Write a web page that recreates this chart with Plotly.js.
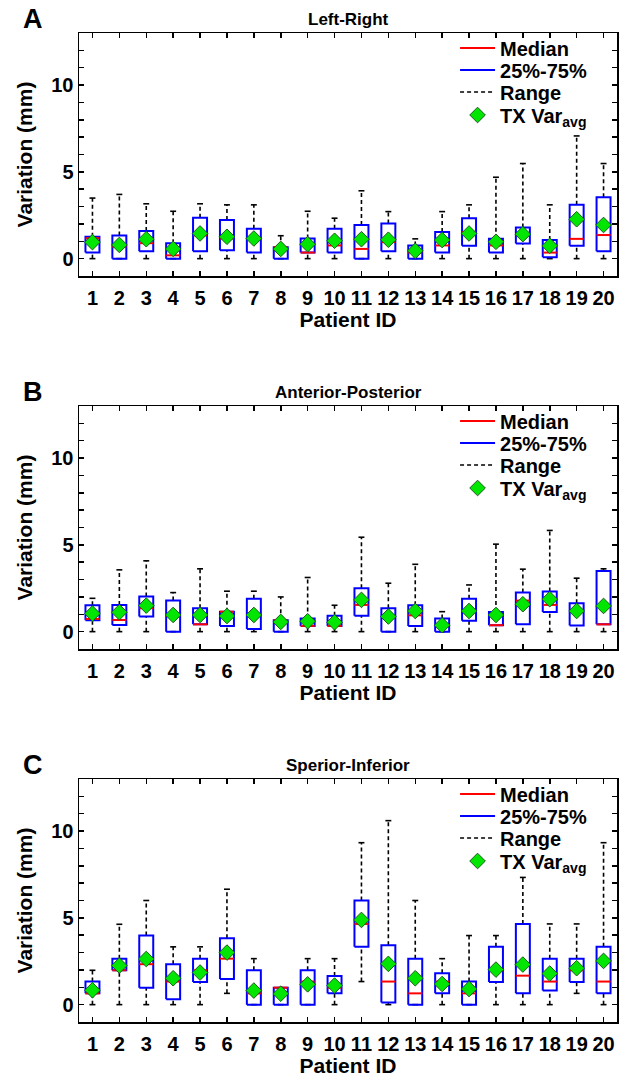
<!DOCTYPE html>
<html>
<head>
<meta charset="utf-8">
<script src="https://cdn.plot.ly/plotly-3.0.1.min.js"></script>
<style>html,body{margin:0;padding:0;background:#fff;}#chart{width:624px;height:1078px;}</style>
</head>
<body>
<div id="chart"></div>
<script>
// Patient IDs
const patients = [1,2,3,4,5,6,7,8,9,10,11,12,13,14,15,16,17,18,19,20];

// Panel A: Left-Right
const maxA  = [3.49,3.70,3.16,2.73,3.16,3.10,3.10,1.32,2.73,2.33,3.91,2.71,1.14,2.71,3.10,4.69,5.48,3.10,7.07,5.48];
const q3A   = [1.26,1.34,1.59,0.89,2.36,2.23,1.72,0.66,1.16,1.72,1.94,2.03,0.76,1.53,2.33,1.14,1.80,1.07,3.10,3.53];
const medA  = [1.18,0.68,0.89,0.19,1.34,1.16,1.16,0.66,0.35,0.76,0.56,0.95,0.35,0.76,1.53,0.76,1.36,0.35,1.14,1.36];
const q1A   = [0.35,0.00,0.43,0.00,0.43,0.48,0.35,0.00,0.35,0.35,0.00,0.43,0.00,0.35,0.74,0.35,0.87,0.08,0.74,0.43];
const minA  = [0,0,0,0,0,0,0,0,0,0,0,0,0,0,0,0,0,0,0,0];
const meanA = [0.95,0.79,1.12,0.56,1.45,1.26,1.16,0.56,0.83,1.03,1.12,1.09,0.45,1.07,1.45,0.97,1.41,0.74,2.27,1.94];

// Panel B: Anterior-Posterior
const maxB  = [1.92,3.56,4.08,2.25,3.62,2.33,2.33,2.00,3.12,1.52,5.44,2.79,3.88,1.15,2.69,5.04,3.60,5.83,3.08,3.62];
const q3B   = [1.52,1.54,2.02,1.79,1.35,1.15,1.90,0.65,0.75,0.92,2.50,1.35,1.52,0.75,1.90,1.13,2.25,2.31,1.63,3.50];
const medB  = [0.73,0.67,1.35,0.90,0.42,1.15,0.96,0.65,0.33,0.33,1.54,0.87,0.94,0.33,1.19,0.37,1.79,1.54,1.15,0.42];
const q1B   = [0.65,0.38,0.87,0.00,0.42,0.33,0.15,0.00,0.33,0.33,0.92,0.00,0.33,0.00,0.63,0.37,0.42,1.13,0.35,0.42];
const minB  = [0,0,0,0,0,0,0,0,0,0,0,0,0,0,0,0,0,0,0,0];
const meanB = [1.04,1.12,1.50,0.96,0.96,0.90,0.96,0.56,0.60,0.54,1.83,0.87,1.19,0.37,1.19,0.96,1.58,1.87,1.19,1.48];

// Panel C: Sperior-Inferior
const maxC  = [1.98,4.63,6.00,3.33,3.33,6.65,2.65,0.98,2.65,2.65,9.33,10.6,6.00,2.65,3.98,3.98,7.33,4.65,4.65,9.33];
const q3C   = [1.33,2.65,3.98,2.33,2.65,3.83,1.98,0.98,1.98,1.65,6.00,3.42,2.65,1.81,1.33,3.33,4.65,2.65,2.65,3.33];
const medC  = [0.65,1.98,2.33,1.33,1.98,2.65,0.65,0.98,1.33,0.98,4.65,1.33,0.65,1.33,0.65,1.98,1.67,1.33,1.98,1.33];
const q1C   = [0.65,1.98,0.98,0.31,1.31,1.48,0.00,0.00,0.00,0.65,3.33,0.13,0.00,0.65,0.00,1.31,0.65,0.81,1.31,0.65];
const minC  = [0,0,0,0,0,0.65,0,0,0,0,1.33,0,0,0,0,0,0,0,0.65,0];
const meanC = [0.83,2.25,2.63,1.52,1.85,3.00,0.81,0.63,1.17,1.10,4.88,2.35,1.52,1.19,0.90,2.02,2.31,1.79,2.10,2.52];

const panelTitles = ['Left-Right','Anterior-Posterior','Sperior-Inferior'];
const panelLetters = ['A','B','C'];
const legendLabels = ['Median','25%-75%','Range','TX Var<sub>avg</sub>'];
const yTickVals = [0,1,2,3,4,5,6,7,8,9,10,11,12];
const yTickText = ['0','','','','','5','','','','','10','',''];

const panels = [
  {max:maxA,q3:q3A,med:medA,q1:q1A,min:minA,mean:meanA},
  {max:maxB,q3:q3B,med:medB,q1:q1B,min:minB,mean:meanB},
  {max:maxC,q3:q3C,med:medC,q1:q1C,min:minC,mean:meanC}
];

const BOXW = 0.26, CAPW = 0.11;
const FONT = 'Liberation Sans, Arial, Helvetica, sans-serif';
const traces = [];
const lgName = n => n === 1 ? 'legend' : 'legend' + n;

panels.forEach((p, k) => {
  const xa = k === 0 ? 'x' : 'x' + (k+1);
  const ya = k === 0 ? 'y' : 'y' + (k+1);
  const base = k*4;
  const bx=[], by=[], mx=[], my=[], wx=[], wy=[], cx=[], cy=[];
  patients.forEach((x, i) => {
    bx.push(x-BOXW, x+BOXW, x+BOXW, x-BOXW, x-BOXW, null);
    by.push(p.q1[i], p.q1[i], p.q3[i], p.q3[i], p.q1[i], null);
    mx.push(x-BOXW, x+BOXW, null);
    my.push(p.med[i], p.med[i], null);
    if (p.max[i] > p.q3[i]) { wx.push(x, x, null); wy.push(p.q3[i], p.max[i], null); }
    if (p.q1[i] > p.min[i]) { wx.push(x, x, null); wy.push(p.min[i], p.q1[i], null); }
    cx.push(x-CAPW, x+CAPW, null, x-CAPW, x+CAPW, null);
    cy.push(p.max[i], p.max[i], null, p.min[i], p.min[i], null);
  });
  traces.push({type:'scatter', mode:'lines', x:wx, y:wy, xaxis:xa, yaxis:ya, legend:lgName(base+3),
    name:legendLabels[2], line:{color:'#000', width:1.6, dash:'4px,3px'}, hoverinfo:'skip'});
  traces.push({type:'scatter', mode:'lines', x:cx, y:cy, xaxis:xa, yaxis:ya,
    showlegend:false, line:{color:'#000', width:1.6}, hoverinfo:'skip'});
  traces.push({type:'scatter', mode:'lines', x:bx, y:by, xaxis:xa, yaxis:ya, legend:lgName(base+2),
    name:legendLabels[1], line:{color:'#0000FF', width:2}, hoverinfo:'skip'});
  traces.push({type:'scatter', mode:'lines', x:mx, y:my, xaxis:xa, yaxis:ya, legend:lgName(base+1),
    name:legendLabels[0], line:{color:'#FF0000', width:2}, hoverinfo:'skip'});
  traces.push({type:'scatter', mode:'markers', x:patients, y:p.mean, xaxis:xa, yaxis:ya, legend:lgName(base+4),
    name:legendLabels[3],
    marker:{symbol:'diamond', size:12, color:'#00E600', line:{color:'#1a5a1a', width:1}}});
});

// layout geometry (pixels): plot area x 79..617, y 33..1022
const TOP = 33, PH = 989;
const domainTopPx = [33, 406, 779];
const domains = domainTopPx.map(t => [1 - (t + 243 - TOP)/PH, 1 - (t - TOP)/PH]);
const legendRowPx = [15, 37, 59, 82];
const pxToPaper = px => 1 - (px - TOP)/PH;

const layout = {
  width:624, height:1078,
  margin:{l:79, r:7, t:TOP, b:1078-TOP-PH},
  paper_bgcolor:'#fff', plot_bgcolor:'#fff',
  font:{family:FONT, size:18, color:'#000', weight:'bold'},
  annotations:[], showlegend:true
};
domains.forEach((d, k) => {
  const sfx = k === 0 ? '' : String(k+1);
  layout['xaxis'+sfx] = {
    domain:[0,1], anchor:'y'+sfx, range:[0.5,20.5],
    tickvals:patients, ticktext:patients.map(String),
    ticks:'inside', ticklen:5, tickwidth:1.5, tickcolor:'#000',
    showline:true, linecolor:'#000', linewidth:1.5, mirror:'ticks',
    showgrid:false, zeroline:false, fixedrange:true,
    ticklabelstandoff:3,
    tickfont:{family:FONT, size:20, weight:'bold'},
    title:{text:'Patient ID', font:{family:FONT, size:21, weight:'bold'}, standoff:5}
  };
  layout['yaxis'+sfx] = {
    domain:d, anchor:'x'+sfx, range:[-1,13],
    tickvals:yTickVals, ticktext:yTickText,
    ticks:'inside', ticklen:5, tickwidth:1.5, tickcolor:'#000',
    showline:true, linecolor:'#000', linewidth:1.5, mirror:'ticks',
    showgrid:false, zeroline:false, fixedrange:true,
    tickfont:{family:FONT, size:20, weight:'bold'},
    title:{text:'Variation (mm)', font:{family:FONT, size:21, weight:'bold'}, standoff:13}
  };
  for (let j = 0; j < 4; j++) {
    layout[lgName(k*4 + j + 1)] = {
      x:0.699, y:pxToPaper(domainTopPx[k] + legendRowPx[j]), xref:'paper', yref:'paper',
      xanchor:'left', yanchor:'middle',
      bgcolor:'rgba(0,0,0,0)', borderwidth:0,
      font:{family:FONT, size:20, weight:'bold'}, itemwidth:35
    };
  }
  layout.annotations.push({
    text:panelTitles[k], xref:'paper', yref:'paper', x:0.5, y:d[1], yshift:14,
    xanchor:'center', yanchor:'middle', showarrow:false,
    font:{family:FONT, size:17, weight:'bold'}
  });
  layout.annotations.push({
    text:panelLetters[k], xref:'paper', yref:'paper', x:-0.085, y:d[1], yshift:14,
    xanchor:'center', yanchor:'middle', showarrow:false,
    font:{family:FONT, size:27, weight:'bold'}
  });
});

Plotly.newPlot('chart', traces, layout, {displayModeBar:false, staticPlot:true});
</script>
</body>
</html>
